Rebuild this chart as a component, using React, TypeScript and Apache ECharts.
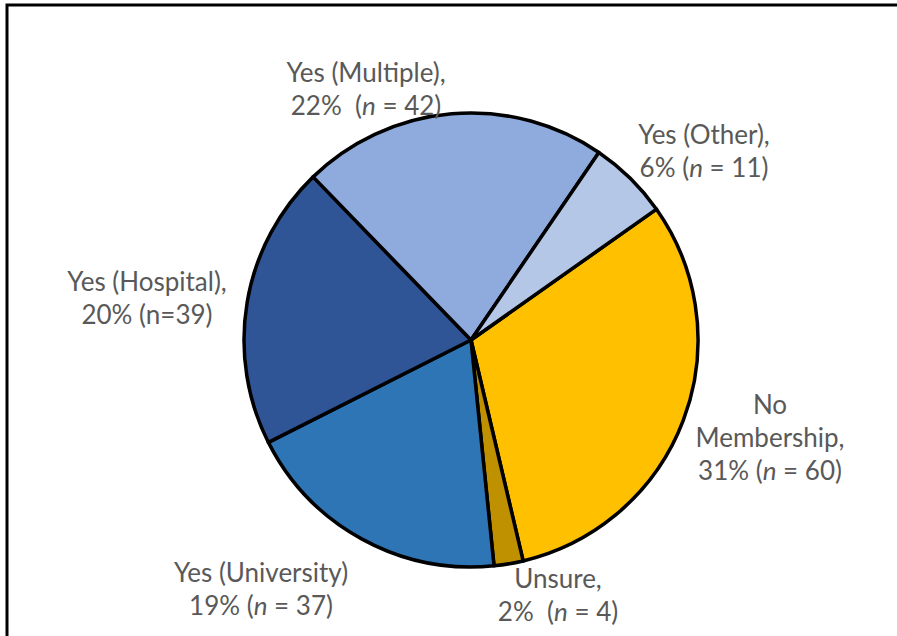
import React, { useEffect, useRef } from "react";
import * as echarts from "echarts";

// Slices in drawing order (clockwise, starting from the No Membership slice)
const categories = [
  "No Membership",
  "Unsure",
  "Yes (University)",
  "Yes (Hospital)",
  "Yes (Multiple)",
  "Yes (Other)",
];
const counts = [60, 4, 37, 39, 42, 11];
const colors = ["#FFC000", "#BF9000", "#2E75B6", "#2F5597", "#8FAADC", "#B4C7E7"];
// Label first-line text(s) and second-line template ({p} = percent, {v} = n)
const labelHeads = [
  "No\nMembership,",
  "Unsure,",
  "Yes (University)",
  "Yes (Hospital),",
  "Yes (Multiple),",
  "Yes (Other),",
];
const labelTails = [
  "{p}% ({i|n} = {v})",
  "{p}%  ({i|n} = {v})",
  "{p}% ({i|n} = {v})",
  "{p}% (n={v})",
  "{p}%  ({i|n} = {v})",
  "{p}% ({i|n} = {v})",
];
// Label anchor positions (block centres), in pixels
const labelPos = [
  [770, 437],
  [558, 594],
  [261, 588],
  [147, 297],
  [366, 88],
  [704, 150],
];

export default function App() {
  const ref = useRef<HTMLDivElement>(null);
  useEffect(() => {
    if (!ref.current) return;
    const chart = echarts.init(ref.current, null, { renderer: "svg" });
    const total = counts.reduce((a, b) => a + b, 0);
    const font = "Lato";
    const size = 26;
    chart.setOption({
      animation: false,
      backgroundColor: "#ffffff",
      graphic: [
        {
          type: "rect",
          shape: { x: 7, y: 5, width: 1200, height: 1200 },
          style: { fill: "none", stroke: "#000000", lineWidth: 3 },
          silent: true,
        },
      ],
      series: [
        {
          type: "pie",
          center: [471, 340],
          radius: 227,
          startAngle: 35.2,
          clockwise: true,
          avoidLabelOverlap: false,
          itemStyle: { borderColor: "#000000", borderWidth: 3.5 },
          labelLine: { show: false },
          label: {
            show: true,
            position: "outside",
            color: "#595959",
            fontFamily: font,
            fontSize: size,
            lineHeight: 33,
            align: "center",
            formatter: (p: any) => {
              const i = p.dataIndex;
              const pct = Math.round((counts[i] / total) * 100);
              const tail = labelTails[i]
                .replace("{p}", String(pct))
                .replace("{v}", String(counts[i]));
              return labelHeads[i] + "\n" + tail;
            },
            rich: {
              i: {
                fontStyle: "italic",
                color: "#595959",
                fontFamily: font,
                fontSize: size,
                lineHeight: 33,
              },
            },
          },
          labelLayout: (params: any) => {
            const pos = labelPos[params.dataIndex];
            return {
              x: pos[0],
              y: pos[1],
              align: "center",
              verticalAlign: "middle",
            };
          },
          data: categories.map((name, i) => ({
            name,
            value: counts[i],
            itemStyle: { color: colors[i] },
          })),
        },
      ],
    });
    return () => chart.dispose();
  }, []);
  return (
    <div
      ref={ref}
      style={{ position: "fixed", left: 0, top: 0, width: 897, height: 636 }}
    />
  );
}
